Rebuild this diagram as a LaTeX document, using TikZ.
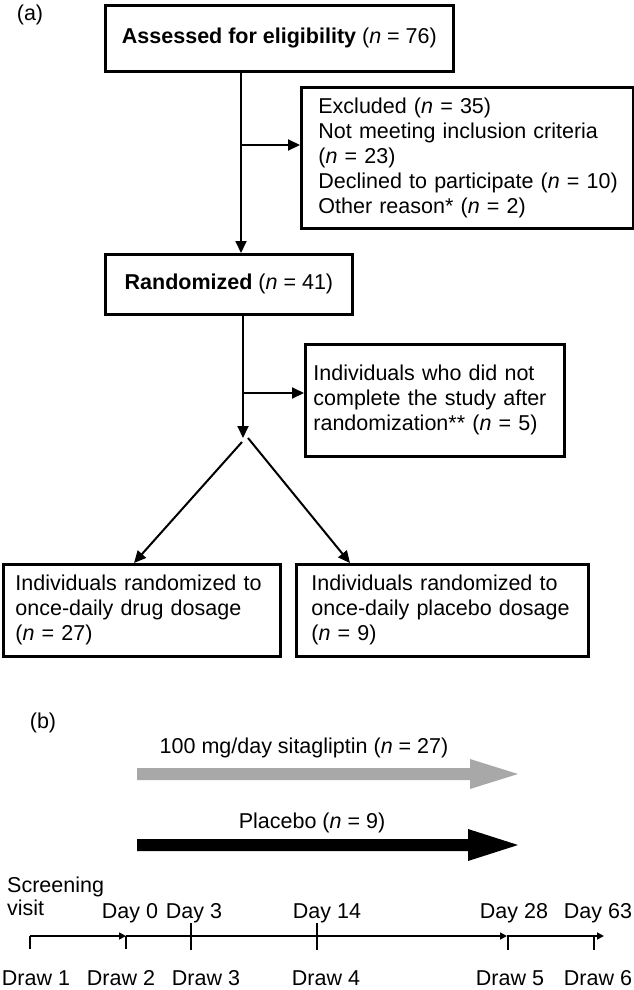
\documentclass[tikz,border=0pt]{standalone}
\usepackage{fontspec}
\setmainfont{Liberation Sans}
\usetikzlibrary{arrows.meta,calc}
\newcommand\figfont{\fontsize{21.5}{25}\selectfont}
\newcommand\boxline[1]{\mbox{#1}}
\definecolor{arrowgray}{HTML}{A8A8A8}
\begin{document}
\begin{tikzpicture}[x=1pt,y=-1pt,
  every node/.style={font=\figfont, inner sep=0pt},
  box/.style={draw, line width=2.8pt, anchor=north west},
  arr/.style={line width=2pt, -{Triangle[length=12pt,width=11pt]}},
  tl/.style={line width=1.6pt, -{Triangle[length=7pt,width=7pt]}},
  tick/.style={line width=1.5pt},
  lbl/.style={anchor=base}
]
\useasboundingbox (0,0) rectangle (634,990);

% ---- (a)
\node (la) at (30,15) {(a)};
\node[box, minimum width=348, minimum height=66] (assess) at (104,4)
  {\textbf{Assessed for eligibility} (\textit{n} = 76)};
\node[box, minimum width=332, minimum height=141, text width=298, align=left] (excl) at (300,86)
  {\boxline{Excluded (\textit{n} = 35)}\\\boxline{Not meeting inclusion criteria}\\\boxline{(\textit{n} = 23)}\\\boxline{Declined to participate (\textit{n} = 10)}\\\boxline{Other reason* (\textit{n} = 2)}};
\node[box, minimum width=247, minimum height=60] (rand) at (104,253)
  {\textbf{Randomized} (\textit{n} = 41)};
\node[box, minimum width=259, minimum height=112, text width=243, align=left] (drop) at (304,343)
  {\boxline{Individuals who did not}\\\boxline{complete the study after}\\\boxline{randomization** (\textit{n} = 5)}};
\node[box, minimum width=277, minimum height=92, text width=253, align=left] (drug) at (2,563)
  {\boxline{Individuals randomized to}\\\boxline{once-daily drug dosage}\\\boxline{(\textit{n} = 27)}};
\node[box, minimum width=292, minimum height=92, text width=262, align=left] (plac) at (295,563)
  {\boxline{Individuals randomized to}\\\boxline{once-daily placebo dosage}\\\boxline{(\textit{n} = 9)}};

\coordinate (stem1) at (241,0);
\coordinate (b1) at (241,145);
\draw[arr] (assess.south -| stem1) -- (rand.north -| stem1);
\draw[arr] (b1) -- (excl.west |- b1);

\coordinate (stem2) at (243,0);
\coordinate (split) at (243,438);
\coordinate (b2) at (243,393);
\draw[arr] (rand.south -| stem2) -- (split);
\draw[arr] (b2) -- (drop.west |- b2);
\coordinate (splitL) at (242,442);
\coordinate (splitR) at (248,438);
\coordinate (dl) at (134,0);
\coordinate (dr) at (350,0);
\draw[arr] (splitL) -- (drug.north -| dl);
\draw[arr] (splitR) -- (plac.north -| dr);

% ---- (b)
\node (lb) at (43,723) {(b)};
\node (sitalbl) at (304,748) {100 mg/day sitagliptin (\textit{n} = 27)};
\fill[arrowgray] (137,768) -- (470,768) -- (470,759) -- (518,774) -- (470,789) -- (470,780) -- (137,780) -- cycle;
\node (placlbl) at (312,823) {Placebo (\textit{n} = 9)};
\fill[black] (137,839) -- (468,839) -- (468,829) -- (518,845) -- (468,861) -- (468,851) -- (137,851) -- cycle;

\coordinate (t0) at (30,936);
\coordinate (t1) at (126,936);
\coordinate (t28) at (507,936);
\coordinate (tend) at (604,936);
\draw[tl] (t0) -- (t1);
\draw[tl] (t1) -- (t28);
\draw[tl] (t28) -- (tend);
\draw[tick] (30,936) -- (30,949);
\draw[tick] (126,936) -- (126,949);
\draw[tick] (191,923) -- (191,950);
\draw[tick] (317,923) -- (317,950);
\draw[tick] (508,936) -- (508,950);
\draw[tick] (594,936) -- (594,950);

\node[anchor=base west] (scr) at (7,892) {Screening};
\node[anchor=base west] (vis) at (7,915) {visit};
\node[lbl] (d0) at (130,918) {Day 0};
\node[lbl] (d3) at (194,918) {Day 3};
\node[lbl] (d14) at (327,918) {Day 14};
\node[lbl] (d28) at (514,918) {Day 28};
\node[lbl] (d63) at (598,918) {Day 63};
\node[lbl] (w1) at (36,985) {Draw 1};
\node[lbl] (w2) at (121,985) {Draw 2};
\node[lbl] (w3) at (206,985) {Draw 3};
\node[lbl] (w4) at (326,985) {Draw 4};
\node[lbl] (w5) at (510,985) {Draw 5};
\node[lbl] (w6) at (598,985) {Draw 6};
\end{tikzpicture}
\end{document}
